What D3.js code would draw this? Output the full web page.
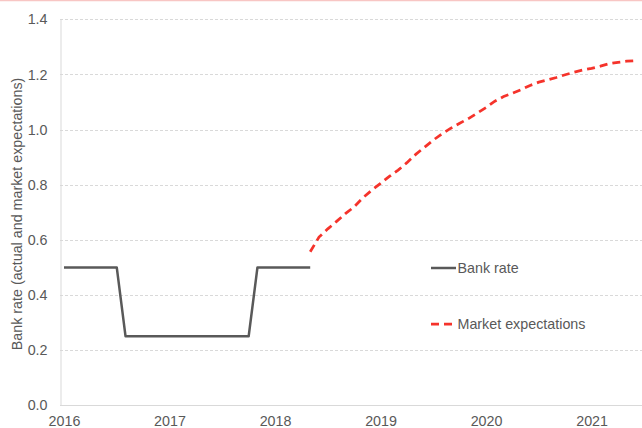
<!DOCTYPE html>
<html>
<head>
<meta charset="utf-8">
<script src="https://cdn.jsdelivr.net/npm/d3@7"></script>
<style>
  html, body { margin: 0; padding: 0; background: #fff; }
  svg { display: block; font-family: "Liberation Sans", Arial, sans-serif; }
</style>
</head>
<body>
<svg id="chart" width="642" height="428"></svg>
<script>
// Month index 0 = Jan 2016
const bankMonths = d3.range(0, 29); // Jan 2016 .. May 2018
const bankValues = [
  0.5,0.5,0.5,0.5,0.5,0.5,0.5,        // Jan-Jul 2016
  0.25,0.25,0.25,0.25,0.25,            // Aug-Dec 2016
  0.25,0.25,0.25,0.25,0.25,0.25,0.25,0.25,0.25,0.25, // Jan-Oct 2017
  0.5,0.5,                             // Nov-Dec 2017
  0.5,0.5,0.5,0.5,0.5                  // Jan-May 2018
];
const marketMonths = d3.range(28, 66); // May 2018 .. Jun 2021
const marketValues = [
  0.557,0.61,0.64,0.667,0.695,0.72,0.753,0.78,
  0.805,0.83,0.853,0.88,0.91,0.936,0.962,0.985,1.005,1.023,1.04,1.06,
  1.08,1.103,1.12,1.132,1.145,1.16,1.172,1.18,1.189,1.199,1.208,1.216,
  1.222,1.23,1.239,1.244,1.248,1.25
];
const yearTicks = [2016, 2017, 2018, 2019, 2020, 2021];
const yTicks = [0, 0.2, 0.4, 0.6, 0.8, 1.0, 1.2, 1.4];
const seriesNames = ["Bank rate", "Market expectations"];

const svg = d3.select("#chart");
const textColor = "#595959";
const fs = 14.3;

const x = d3.scaleLinear().domain([0, 60]).range([64, 591.6]);
const y = d3.scaleLinear().domain([0, 1.4]).range([405.3, 19.3]);

// top pink border
svg.append("line").attr("x1", 0).attr("x2", 642).attr("y1", 0.5).attr("y2", 0.5)
  .attr("stroke", "#f8c6c4").attr("stroke-width", 1.5);

// gridlines
svg.append("g").selectAll("line").data(yTicks.filter(d => d > 0)).join("line")
  .attr("x1", 60).attr("x2", 642)
  .attr("y1", d => Math.round(y(d)) + 0.5).attr("y2", d => Math.round(y(d)) + 0.5)
  .attr("stroke", "#d9d9d9").attr("stroke-width", 1).attr("stroke-dasharray", "3,2");

// y axis
const yAxis = d3.axisLeft(y).tickValues(yTicks).tickFormat(d3.format(".1f")).tickSize(0).tickPadding(13);
const gy = svg.append("g").attr("transform", "translate(60.5,0)").call(yAxis);
gy.select(".domain").attr("stroke", "#d9d9d9").attr("stroke-width", 1);
gy.selectAll("text").attr("fill", textColor).attr("font-size", fs)
  .attr("font-family", "Liberation Sans, Arial, sans-serif");

// x axis
const xAxis = d3.axisBottom(x).tickValues(yearTicks.map(yr => (yr - 2016) * 12))
  .tickFormat((d, i) => yearTicks[i]).tickSize(0).tickPadding(10);
const gx = svg.append("g").attr("transform", "translate(0,405.5)").call(xAxis);
gx.select(".domain").attr("d", "M60,0H642").attr("stroke", "#d9d9d9").attr("stroke-width", 1);
gx.selectAll("text").attr("fill", textColor).attr("font-size", fs)
  .attr("font-family", "Liberation Sans, Arial, sans-serif");

// y title
svg.append("text")
  .attr("transform", "translate(22,214) rotate(-90)")
  .attr("text-anchor", "middle")
  .attr("fill", textColor).attr("font-size", fs)
  .text("Bank rate (actual and market expectations)");

const line = d3.line().x(d => x(d[0])).y(d => y(d[1]));

svg.append("path")
  .datum(bankMonths.map((m, i) => [m, bankValues[i]]))
  .attr("d", line).attr("fill", "none")
  .attr("stroke", "#595959").attr("stroke-width", 2.5).attr("stroke-linejoin", "round");

svg.append("path")
  .datum(marketMonths.map((m, i) => [m, marketValues[i]]))
  .attr("d", line).attr("fill", "none")
  .attr("stroke", "#f5332b").attr("stroke-width", 2.75).attr("stroke-dasharray", "8,5");

// legend
const legend = svg.append("g");
const legendItems = [
  { name: seriesNames[0], y: 268, color: "#595959", dash: null },
  { name: seriesNames[1], y: 324, color: "#f5332b", dash: "8,5" }
];
legendItems.forEach(it => {
  legend.append("line").attr("x1", 431).attr("x2", 456).attr("y1", it.y).attr("y2", it.y)
    .attr("stroke", it.color).attr("stroke-width", it.dash ? 2.75 : 2.5)
    .attr("stroke-dasharray", it.dash);
  legend.append("text").attr("x", 457.5).attr("y", it.y + 5)
    .attr("fill", textColor).attr("font-size", fs).text(it.name);
});
</script>
</body>
</html>
